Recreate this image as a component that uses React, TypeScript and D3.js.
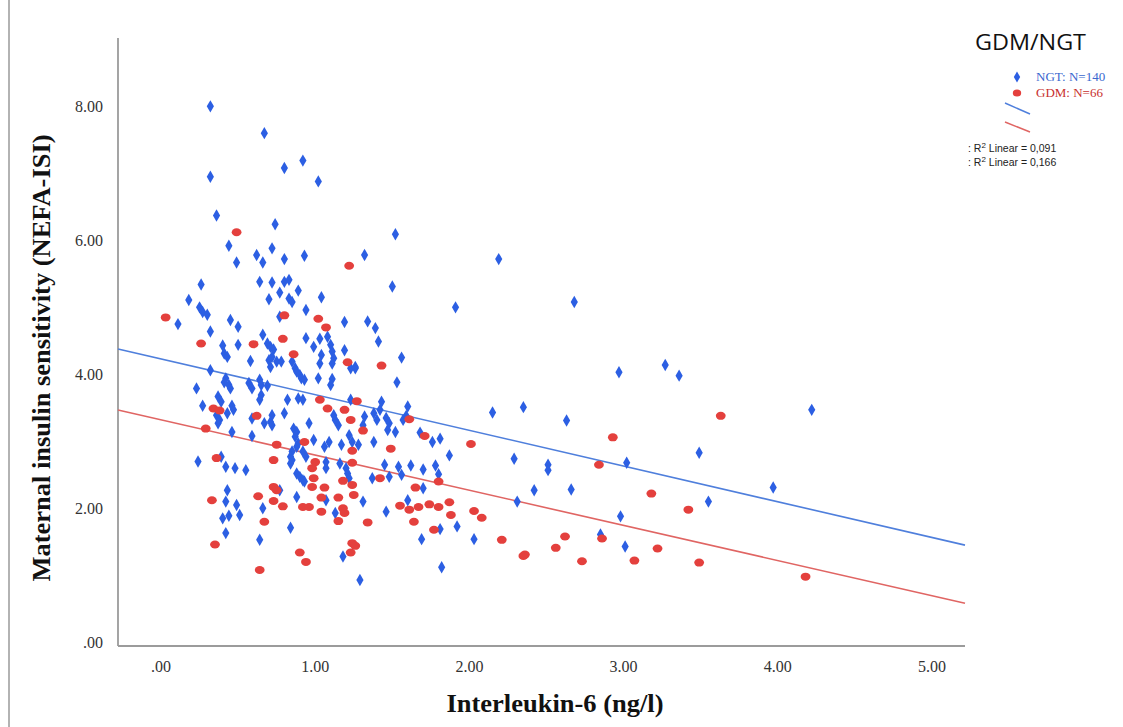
import React from "react";
import * as d3 from "d3";

// ---- data (IL-6 ng/l, NEFA-ISI) ----
const ngtIL6 = [0.32,0.67,0.80,0.92,1.02,0.32,0.36,0.74,1.52,0.44,0.72,0.62,0.66,0.80,0.93,0.49,1.32,0.26,0.64,0.72,0.80,0.83,0.77,0.89,1.50,0.70,0.83,0.85,1.04,0.18,0.25,0.27,0.30,0.94,0.11,0.45,0.50,0.77,1.19,1.34,1.39,1.41,0.32,0.40,0.41,0.43,0.50,0.66,0.69,0.71,0.73,0.72,0.75,0.94,0.99,1.03,1.04,1.08,1.10,1.11,1.12,0.58,0.70,0.71,0.78,0.85,0.87,0.88,0.90,0.91,0.93,1.03,1.11,1.19,1.23,1.26,0.32,0.42,0.41,0.44,0.45,0.23,0.57,0.59,0.64,0.65,0.69,0.65,0.64,0.37,0.39,0.27,0.36,0.38,0.37,0.46,0.47,0.43,0.59,0.72,0.71,0.72,0.67,0.80,0.89,0.92,0.82,1.02,1.11,1.10,1.12,1.13,1.15,1.23,1.26,1.31,1.32,1.38,1.40,1.42,0.46,0.59,0.86,0.88,0.87,0.89,0.88,0.96,0.99,0.85,0.84,0.85,0.92,0.94,1.06,1.09,1.17,1.22,1.24,1.28,1.38,1.07,1.07,0.24,0.39,0.42,0.48,0.55,0.84,0.88,0.90,0.92,0.93,1.16,1.20,1.21,1.22,1.37,0.43,0.42,0.40,0.44,0.49,0.51,0.77,0.66,0.88,1.07,1.31,1.13,0.42,0.84,0.64,1.18,1.29,2.19,1.91,2.68,1.56,1.53,2.97,1.43,1.60,1.57,1.59,1.46,1.48,1.47,1.52,2.15,2.35,2.63,1.68,1.76,1.81,1.87,3.02,2.29,1.45,1.54,1.56,1.62,1.70,1.78,1.80,1.48,2.51,2.51,1.70,2.42,2.66,2.31,1.60,1.46,2.98,1.92,1.81,1.69,2.03,2.85,3.01,1.82,3.27,3.36,4.22,3.49,3.97,3.55];
const ngtISI = [8.01,7.61,7.09,7.20,6.89,6.96,6.38,6.25,6.10,5.93,5.89,5.79,5.68,5.73,5.78,5.68,5.79,5.35,5.39,5.38,5.39,5.42,5.23,5.26,5.32,5.13,5.14,5.09,5.16,5.12,5.01,4.94,4.90,4.97,4.76,4.82,4.72,4.87,4.79,4.80,4.70,4.50,4.65,4.44,4.32,4.27,4.45,4.60,4.47,4.42,4.38,4.27,4.20,4.55,4.42,4.54,4.30,4.57,4.45,4.35,4.25,4.21,4.22,4.12,4.20,4.20,4.10,4.05,4.00,3.95,3.93,4.17,4.17,4.37,4.10,4.10,4.07,3.95,3.89,3.85,3.80,3.80,3.88,3.80,3.93,3.85,3.84,3.70,3.63,3.68,3.60,3.54,3.40,3.33,3.28,3.54,3.48,3.43,3.35,3.40,3.30,3.25,3.28,3.43,3.65,3.63,3.63,3.95,3.94,3.85,3.40,3.33,3.25,3.63,4.12,3.25,3.38,3.43,3.33,3.48,3.15,3.09,3.20,3.15,3.08,2.98,2.93,3.28,3.03,2.86,2.78,2.73,2.86,2.78,2.93,3.00,2.96,3.10,3.00,2.96,3.00,2.70,2.61,2.71,2.78,2.63,2.61,2.58,2.68,2.53,2.48,2.43,2.41,2.68,2.61,2.53,2.46,2.46,2.28,2.11,1.86,1.90,2.06,1.91,2.28,2.01,2.18,2.13,2.11,1.94,1.64,1.72,1.54,1.29,0.94,5.73,5.01,5.09,4.26,3.89,4.04,3.60,3.53,3.33,3.39,3.36,3.28,3.18,3.15,3.44,3.52,3.32,3.14,3.00,3.05,2.80,2.69,2.75,2.66,2.63,2.51,2.65,2.59,2.65,2.52,2.48,2.66,2.58,2.31,2.28,2.29,2.11,2.13,1.96,1.89,1.74,1.70,1.55,1.55,1.62,1.44,1.13,4.15,3.99,3.48,2.84,2.32,2.11];

const gdmIL6 = [0.49,1.22,0.03,0.80,1.02,1.07,0.26,0.60,0.79,0.86,1.21,1.43,0.34,0.38,0.62,1.03,1.08,1.19,1.23,1.27,1.31,0.29,0.93,0.75,1.24,1.49,1.00,0.98,0.36,0.73,0.99,1.24,1.18,1.42,1.55,0.33,0.63,0.73,0.75,0.73,0.79,0.67,0.98,1.06,1.04,1.15,0.92,0.96,1.04,1.18,1.19,1.24,1.25,1.15,1.34,0.35,0.90,0.94,1.24,1.26,1.23,0.64,1.61,1.71,2.01,2.93,2.84,1.80,1.65,1.61,1.67,1.74,1.80,1.87,1.88,2.03,2.08,1.64,1.77,2.21,2.62,2.56,2.86,2.35,2.36,2.73,3.63,3.18,3.42,3.22,3.07,3.49,4.18];
const gdmISI = [6.13,5.63,4.86,4.89,4.84,4.71,4.47,4.46,4.54,4.31,4.19,4.14,3.50,3.47,3.39,3.63,3.50,3.48,3.33,3.61,3.17,3.20,3.00,2.96,2.87,2.90,2.70,2.61,2.76,2.73,2.46,2.69,2.42,2.46,2.05,2.13,2.19,2.33,2.28,2.12,2.04,1.81,2.33,2.32,2.17,2.17,2.03,2.03,1.96,2.01,1.94,2.36,2.21,1.82,1.80,1.47,1.35,1.21,1.49,1.45,1.35,1.09,3.34,3.09,2.97,3.07,2.66,2.41,2.32,1.99,2.03,2.07,2.03,2.10,1.91,1.97,1.87,1.81,1.69,1.54,1.59,1.42,1.56,1.30,1.32,1.22,3.39,2.23,1.99,1.41,1.23,1.20,0.99];

// linear fits (intercept, slope)
const fitNames = ["NGT", "GDM"];
const fitIntercepts = [4.24, 3.33];
const fitSlopes = [-0.533, -0.525];

const xTicks = [0, 1, 2, 3, 4, 5];
const yTicks = [0, 2, 4, 6, 8];
const xDomain = [-0.279, 5.214];
const yDomain = [-0.03, 9.03];

const BLUE = "#2c5fe3";
const RED = "#e4403d";
const BLUE_LINE = "#4f7fdc";
const RED_LINE = "#e06563";

export default function App() {
  const W = 1123, H = 727;
  const x = d3.scaleLinear().domain(xDomain).range([118, 965]);
  const y = d3.scaleLinear().domain(yDomain).range([645, 38]);
  const fmt = (v: number) => (v === 0 ? ".00" : d3.format(".2f")(v));
  const ngt = ngtIL6.map((v, i) => [v, ngtISI[i]]);
  const gdm = gdmIL6.map((v, i) => [v, gdmISI[i]]);
  const diamond = (cx: number, cy: number, w = 3.6, h = 6.2) =>
    `M${cx},${cy - h}L${cx + w},${cy}L${cx},${cy + h}L${cx - w},${cy}Z`;
  const line = d3
    .line<number[]>()
    .x((d) => x(d[0]))
    .y((d) => y(d[1]));
  const fitColors = [BLUE_LINE, RED_LINE];

  return (
    <svg width={W} height={H} style={{ position: "absolute", left: 0, top: 0, background: "#fff" }}>
      <rect x={0} y={0} width={W} height={H} fill="#fff" />
      <line x1={9} x2={9} y1={0} y2={H} stroke="#9a9a9a" strokeWidth={1.5} />
      {/* axes */}
      <line x1={x(xDomain[0])} x2={x(xDomain[0])} y1={y(yDomain[1])} y2={y(yDomain[0]) + 1} stroke="#9b9b9b" strokeWidth={1.8} />
      <line x1={x(xDomain[0])} x2={x(xDomain[1])} y1={y(yDomain[0]) + 1} y2={y(yDomain[0]) + 1} stroke="#9b9b9b" strokeWidth={1.8} />
      {yTicks.map((t) => (
        <text key={"y" + t} x={103} y={y(t) + 5} textAnchor="end" fontFamily="'Liberation Serif', serif" fontSize={16} fill="#333">{fmt(t)}</text>
      ))}
      {xTicks.map((t) => (
        <text key={"x" + t} x={x(t)} y={672} textAnchor="middle" fontFamily="'Liberation Serif', serif" fontSize={16} fill="#333">{fmt(t)}</text>
      ))}
      <text x={555} y={712} textAnchor="middle" fontFamily="'Liberation Serif', serif" fontWeight="bold" fontSize={25} fill="#111" textLength={217} lengthAdjust="spacingAndGlyphs">Interleukin-6 (ng/l)</text>
      <text transform="translate(50,358) rotate(-90)" textAnchor="middle" fontFamily="'Liberation Serif', serif" fontWeight="bold" fontSize={25} fill="#111" textLength={447} lengthAdjust="spacingAndGlyphs">Maternal insulin sensitivity (NEFA-ISI)</text>
      {/* fit lines */}
      {fitNames.map((n, i) => (
        <path
          key={n}
          d={line(xDomain.map((v) => [v, fitIntercepts[i] + fitSlopes[i] * v])) || ""}
          fill="none"
          stroke={fitColors[i]}
          strokeWidth={1.6}
        />
      ))}
      {/* points */}
      {ngt.map((d, i) => (
        <path key={"b" + i} d={diamond(x(d[0]), y(d[1]))} fill={BLUE} />
      ))}
      {gdm.map((d, i) => (
        <ellipse key={"r" + i} cx={x(d[0])} cy={y(d[1])} rx={4.9} ry={4.0} fill={RED} />
      ))}
      {/* legend */}
      <text x={975} y={50} fontFamily="'Open Sans', sans-serif" fontSize={22} fill="#111" textLength={111} lengthAdjust="spacingAndGlyphs">GDM/NGT</text>
      <path d={diamond(1017, 77, 3.2, 5.5)} fill={BLUE} />
      <text x={1036} y={81} fontFamily="'Liberation Serif', serif" fontSize={13} fill="#3a68cf">NGT:  N=140</text>
      <ellipse cx={1017} cy={93} rx={4.2} ry={3.6} fill={RED} />
      <text x={1036} y={97} fontFamily="'Liberation Serif', serif" fontSize={13} fill="#c8302e">GDM:  N=66</text>
      <line x1={1005} y1={103} x2={1030} y2={114} stroke={BLUE_LINE} strokeWidth={1.5} />
      <line x1={1005} y1={122} x2={1030} y2={132} stroke={RED_LINE} strokeWidth={1.5} />
      <text x={968} y={152} fontFamily="Arial, 'Liberation Sans', sans-serif" fontSize={10.5} fill="#222">: R<tspan dy={-4} fontSize={8}>2</tspan><tspan dy={4}> Linear = 0,091</tspan></text>
      <text x={968} y={166} fontFamily="Arial, 'Liberation Sans', sans-serif" fontSize={10.5} fill="#222">: R<tspan dy={-4} fontSize={8}>2</tspan><tspan dy={4}> Linear = 0,166</tspan></text>
    </svg>
  );
}
